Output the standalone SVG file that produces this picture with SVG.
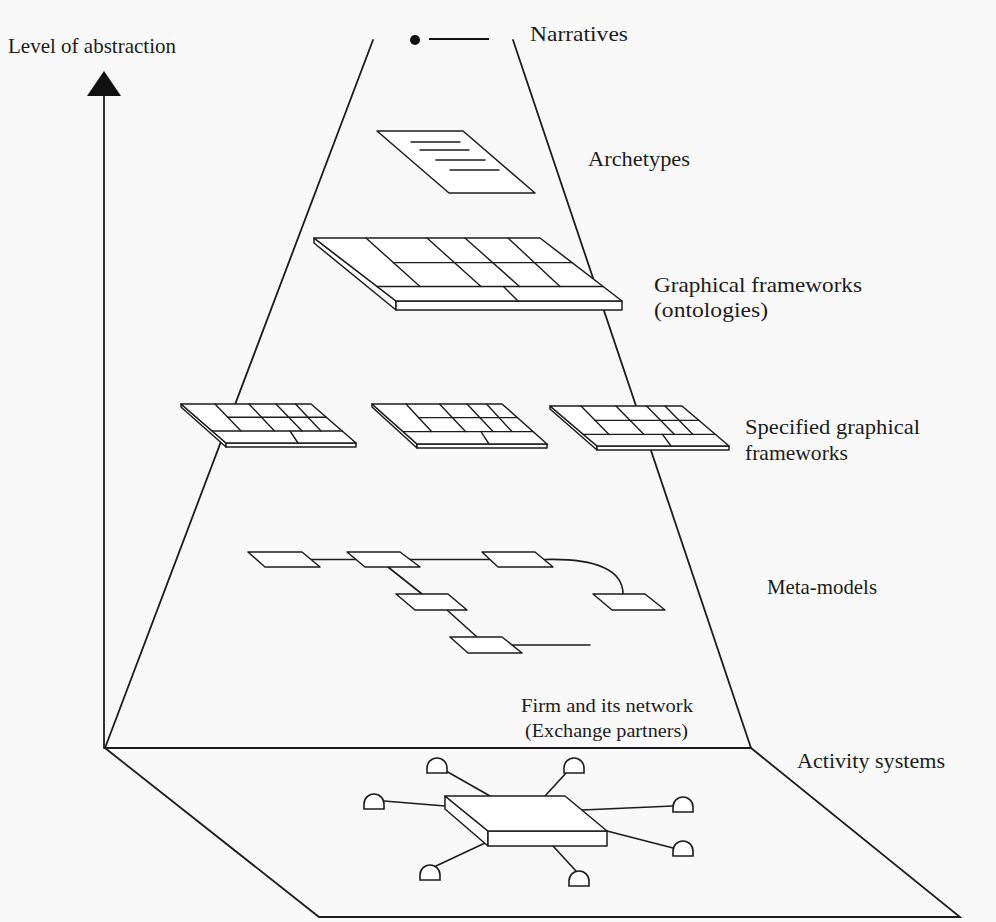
<svg xmlns="http://www.w3.org/2000/svg" width="996" height="922" viewBox="0 0 996 922">
<style>
.ln{stroke:#1c1c1c;stroke-width:1.8;fill:none;stroke-linecap:round}
.sl{stroke:#1c1c1c;stroke-width:1.5;fill:#fff;stroke-linejoin:round}
.gr{stroke:#1c1c1c;stroke-width:1.4;fill:none;stroke-linecap:round}
.cn{stroke:#1c1c1c;stroke-width:1.6;fill:none;stroke-linecap:round}
.t{font-family:"Liberation Serif","Times New Roman",serif;font-size:21px;fill:#1c1c1c}
.s{font-size:18px}
</style>
<defs>
<path id="dome" d="M-10,0 L-10,-5 A10,10 0 0 1 10,-5 L10,0 Z" fill="#fff" stroke="#1c1c1c" stroke-width="1.6"/>
</defs>
<rect width="996" height="922" fill="#f9f9f9"/>

<g id="axis">
<line class="ln" x1="104" y1="96" x2="104" y2="748"/>
<polygon points="104,71 87,96 121,96" fill="#111"/>
<text class="t" x="8" y="53" textLength="168" lengthAdjust="spacingAndGlyphs">Level of abstraction</text>
</g>

<g id="pyramid">
<line class="ln" x1="373" y1="40" x2="105" y2="748"/>
<line class="ln" x1="513" y1="40" x2="751" y2="748"/>
<line class="ln" x1="105" y1="748" x2="751" y2="748"/>
<polyline class="ln" points="105,748 319,917 960,917 751,748"/>
</g>

<g id="narratives">
<circle cx="415" cy="40" r="5" fill="#111"/>
<line x1="429" y1="39" x2="489" y2="39" stroke="#111" stroke-width="2.2"/>
<text class="t" x="530" y="41" textLength="98" lengthAdjust="spacingAndGlyphs">Narratives</text>
</g>

<g id="archetypes">
<polygon class="sl" points="377,131 463,131 535,193 449,193"/>
<line class="gr" x1="411" y1="142" x2="460" y2="142"/>
<line class="gr" x1="420" y1="150" x2="469" y2="150"/>
<line class="gr" x1="436" y1="160" x2="485" y2="160"/>
<line class="gr" x1="450" y1="170" x2="499" y2="170"/>
<text class="t" x="588" y="166" textLength="102" lengthAdjust="spacingAndGlyphs">Archetypes</text>
</g>

<g id="graphical-frameworks">
<polygon class="sl" points="314,238 314,243 396,310 396,301"/>
<rect class="sl" x="396" y="301" width="226" height="9"/>
<polygon class="sl" points="314,238 540,238 622,301 396,301"/>
<line class="gr" x1="366" y1="238" x2="420" y2="286.5"/>
<line class="gr" x1="427" y1="238" x2="481" y2="286.5"/>
<line class="gr" x1="465" y1="238" x2="519.5" y2="286.5"/>
<line class="gr" x1="508" y1="238" x2="560" y2="286.5"/>
<line class="gr" x1="393" y1="262.6" x2="572" y2="262.6"/>
<line class="gr" x1="377" y1="286.5" x2="603" y2="286.5"/>
<line class="gr" x1="503.5" y1="286.5" x2="518" y2="301"/>
<text class="t" x="654" y="292" textLength="208" lengthAdjust="spacingAndGlyphs">Graphical frameworks</text>
<text class="t" x="654" y="317" textLength="114" lengthAdjust="spacingAndGlyphs">(ontologies)</text>
</g>

<g id="specified-framework-1">
<polygon class="sl" points="181,404 181,407 226,447 226,443"/>
<rect class="sl" x="226" y="443" width="130" height="4"/>
<polygon class="sl" points="181,404 311,404 356,443 226,443"/>
<line class="gr" x1="215" y1="404" x2="241" y2="431"/>
<line class="gr" x1="249" y1="404" x2="274.5" y2="431"/>
<line class="gr" x1="276" y1="404" x2="302" y2="431"/>
<line class="gr" x1="295.5" y1="404" x2="321" y2="431"/>
<line class="gr" x1="227.5" y1="417.3" x2="326" y2="417.3"/>
<line class="gr" x1="212" y1="431" x2="342" y2="431"/>
<line class="gr" x1="290" y1="431" x2="298" y2="443"/>
</g>

<g id="specified-framework-2">
<polygon class="sl" points="372,404 372,407 417,448 417,444"/>
<rect class="sl" x="417" y="444" width="130" height="4"/>
<polygon class="sl" points="372,404 502,404 547,444 417,444"/>
<line class="gr" x1="406" y1="404" x2="431.5" y2="431.6"/>
<line class="gr" x1="439.5" y1="404" x2="465.5" y2="431.6"/>
<line class="gr" x1="467" y1="404" x2="493" y2="431.6"/>
<line class="gr" x1="486.5" y1="404" x2="512" y2="431.6"/>
<line class="gr" x1="418.5" y1="417.6" x2="517" y2="417.6"/>
<line class="gr" x1="403" y1="431.6" x2="533" y2="431.6"/>
<line class="gr" x1="481" y1="431.6" x2="489" y2="444"/>
</g>

<g id="specified-framework-3">
<polygon class="sl" points="550,406 550,409 597,450 597,446"/>
<rect class="sl" x="597" y="446" width="132" height="4"/>
<polygon class="sl" points="550,406 682,406 729,446 597,446"/>
<line class="gr" x1="581" y1="406" x2="609" y2="434.4"/>
<line class="gr" x1="616" y1="406" x2="644" y2="434.4"/>
<line class="gr" x1="646.5" y1="406" x2="674.5" y2="434.4"/>
<line class="gr" x1="665" y1="406" x2="693" y2="434.4"/>
<line class="gr" x1="595" y1="420.4" x2="699" y2="420.4"/>
<line class="gr" x1="583.5" y1="434.4" x2="715.5" y2="434.4"/>
<line class="gr" x1="662.5" y1="434.4" x2="671" y2="446"/>
<text class="t" x="745" y="434" textLength="175" lengthAdjust="spacingAndGlyphs">Specified graphical</text>
<text class="t" x="745" y="460" textLength="103" lengthAdjust="spacingAndGlyphs">frameworks</text>
</g>

<g id="connectors">
<line class="cn" x1="311" y1="559.5" x2="356" y2="559.5"/>
<line class="cn" x1="409.5" y1="559.5" x2="490" y2="559.5"/>
<path class="cn" d="M544,559.5 C596,558 623,570 623,594"/>
<line class="cn" x1="388" y1="567" x2="422" y2="594"/>
<line class="cn" x1="447" y1="610" x2="477" y2="637"/>
<line class="cn" x1="512" y1="645" x2="590" y2="645"/>
<line class="cn" x1="446" y1="771" x2="490" y2="796"/>
<line class="cn" x1="567" y1="772" x2="545" y2="796"/>
<line class="cn" x1="384" y1="801" x2="445" y2="806"/>
<line class="cn" x1="673" y1="806" x2="582" y2="810"/>
<line class="cn" x1="673" y1="848" x2="607" y2="831"/>
<line class="cn" x1="436" y1="866" x2="485" y2="843"/>
<line class="cn" x1="576" y1="871" x2="553" y2="846"/>
</g>

<g id="meta-models">
<polygon id="mm-a" class="sl" points="248,552 302,552 320,567 265,567"/>
<polygon id="mm-b" class="sl" points="347,552 400,552 420,567 365,567"/>
<polygon id="mm-c" class="sl" points="482,552 535,552 553,567 498,567"/>
<polygon id="mm-d" class="sl" points="396,594 448,594 467,610 415,610"/>
<polygon id="mm-e" class="sl" points="593,594 645,594 665,610 612,610"/>
<polygon id="mm-f" class="sl" points="450,637 502,637 522,653 468,653"/>
<text class="t" x="767" y="594" textLength="110" lengthAdjust="spacingAndGlyphs">Meta-models</text>
</g>

<g id="activity-systems">
<polygon class="sl" points="445,796 445,809 488,846 488,831"/>
<rect class="sl" x="488" y="831" width="119" height="15"/>
<polygon class="sl" points="445,796 565,796 607,831 488,831"/>
<use href="#dome" x="437" y="773"/>
<use href="#dome" x="574" y="773"/>
<use href="#dome" x="374" y="809"/>
<use href="#dome" x="683" y="812"/>
<use href="#dome" x="683" y="856"/>
<use href="#dome" x="430" y="880"/>
<use href="#dome" x="579" y="886"/>
<text class="t s" x="521" y="712" textLength="172" lengthAdjust="spacingAndGlyphs">Firm and its network</text>
<text class="t s" x="525" y="737" textLength="163" lengthAdjust="spacingAndGlyphs">(Exchange partners)</text>
<text class="t" x="797" y="768" textLength="148" lengthAdjust="spacingAndGlyphs">Activity systems</text>
</g>
</svg>
